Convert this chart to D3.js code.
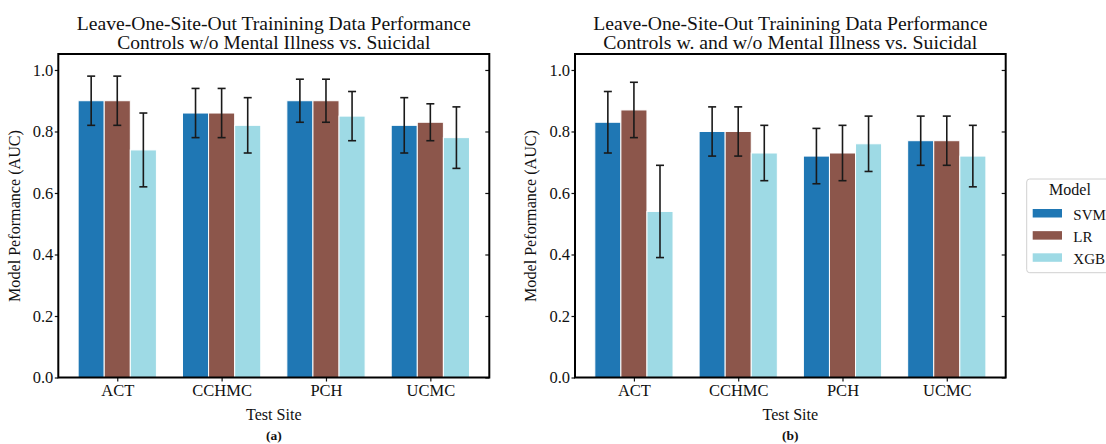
<!DOCTYPE html>
<html>
<head>
<meta charset="utf-8">
<script src="https://cdn.jsdelivr.net/npm/d3@7"></script>
<style>
  html, body { margin: 0; padding: 0; background: #fff; }
  svg { display: block; }
  text { font-family: "Liberation Serif", "DejaVu Serif", serif; fill: #111; }
</style>
</head>
<body>
<svg id="chart" width="1106" height="444"></svg>
<script>
// ---- data ----
const categories = ["ACT", "CCHMC", "PCH", "UCMC"];
const models = ["SVM", "LR", "XGB"];
const yTicks = [0.0, 0.2, 0.4, 0.6, 0.8, 1.0];

// Panel (a): Controls w/o Mental Illness vs. Suicidal
const aSVM = [0.90, 0.86, 0.90, 0.82];
const aSVMLo = [0.82, 0.78, 0.83, 0.73];
const aSVMHi = [0.98, 0.94, 0.97, 0.91];
const aLR = [0.90, 0.86, 0.90, 0.83];
const aLRLo = [0.82, 0.78, 0.83, 0.77];
const aLRHi = [0.98, 0.94, 0.97, 0.89];
const aXGB = [0.74, 0.82, 0.85, 0.78];
const aXGBLo = [0.62, 0.73, 0.77, 0.68];
const aXGBHi = [0.86, 0.91, 0.93, 0.88];

// Panel (b): Controls w. and w/o Mental Illness vs. Suicidal
const bSVM = [0.83, 0.80, 0.72, 0.77];
const bSVMLo = [0.73, 0.72, 0.63, 0.69];
const bSVMHi = [0.93, 0.88, 0.81, 0.85];
const bLR = [0.87, 0.80, 0.73, 0.77];
const bLRLo = [0.78, 0.72, 0.64, 0.69];
const bLRHi = [0.96, 0.88, 0.82, 0.85];
const bXGB = [0.54, 0.73, 0.76, 0.72];
const bXGBLo = [0.39, 0.64, 0.67, 0.62];
const bXGBHi = [0.69, 0.82, 0.85, 0.82];

const titleLine1 = "Leave-One-Site-Out Trainining Data Performance";
const titleA2 = "Controls w/o Mental Illness vs. Suicidal";
const titleB2 = "Controls w. and w/o Mental Illness vs. Suicidal";
const xLabel = "Test Site";
const yLabel = "Model Peformance (AUC)";
const legendTitle = "Model";

const colors = { SVM: "#1f77b4", LR: "#8c564b", XGB: "#9edae5" };

function buildRows(svm, svmLo, svmHi, lr, lrLo, lrHi, xgb, xgbLo, xgbHi) {
  const rows = [];
  categories.forEach((c, i) => {
    rows.push({ cat: c, ci: i, model: "SVM", mi: 0, v: svm[i], lo: svmLo[i], hi: svmHi[i] });
    rows.push({ cat: c, ci: i, model: "LR", mi: 1, v: lr[i], lo: lrLo[i], hi: lrHi[i] });
    rows.push({ cat: c, ci: i, model: "XGB", mi: 2, v: xgb[i], lo: xgbLo[i], hi: xgbHi[i] });
  });
  return rows;
}

const panels = [
  { left: 58.3, right: 489.3, t2: titleA2, t2len: 313, tag: "(a)",
    rows: buildRows(aSVM, aSVMLo, aSVMHi, aLR, aLRLo, aLRHi, aXGB, aXGBLo, aXGBHi) },
  { left: 575, right: 1005.7, t2: titleB2, t2len: 374, tag: "(b)",
    rows: buildRows(bSVM, bSVMLo, bSVMHi, bLR, bLRLo, bLRHi, bXGB, bXGBLo, bXGBHi) }
];

const plotTop = 54.6, plotBottom = 377.5;
const svg = d3.select("#chart");
const barW = 0.25;

const y = d3.scaleLinear().domain([0, 1.05]).range([plotBottom, plotTop]);

panels.forEach(p => {
  const x = d3.scaleLinear().domain([-0.565, 3.565]).range([p.left, p.right]);
  const g = svg.append("g");
  const cx = (p.left + p.right) / 2;

  // bars
  g.selectAll("rect.bar").data(p.rows).enter().append("rect")
    .attr("class", "bar")
    .attr("x", d => x(d.ci + (d.mi - 1) * barW - barW / 2))
    .attr("width", d => x(barW) - x(0))
    .attr("y", d => y(d.v))
    .attr("height", d => y(0) - y(d.v))
    .attr("fill", d => colors[d.model])
    .attr("stroke", "#fff")
    .attr("stroke-width", 1);

  // error bars
  const eb = g.selectAll("g.eb").data(p.rows).enter().append("g").attr("class", "eb");
  const ex = d => x(d.ci + (d.mi - 1) * barW);
  eb.append("line").attr("x1", ex).attr("x2", ex)
    .attr("y1", d => y(d.lo)).attr("y2", d => y(d.hi))
    .attr("stroke", "#1a1a1a").attr("stroke-width", 1.6);
  eb.append("line").attr("x1", d => ex(d) - 4).attr("x2", d => ex(d) + 4)
    .attr("y1", d => y(d.lo)).attr("y2", d => y(d.lo))
    .attr("stroke", "#1a1a1a").attr("stroke-width", 1.6);
  eb.append("line").attr("x1", d => ex(d) - 4).attr("x2", d => ex(d) + 4)
    .attr("y1", d => y(d.hi)).attr("y2", d => y(d.hi))
    .attr("stroke", "#1a1a1a").attr("stroke-width", 1.6);

  // axes
  const yAxis = d3.axisLeft(y).tickValues(yTicks).tickFormat(d3.format(".1f")).tickSize(3.5).tickPadding(1.5);
  const ga = g.append("g").attr("transform", `translate(${p.left},0)`).call(yAxis);
  ga.select(".domain").remove();
  ga.selectAll("text").style("font-size", "16.5px").style("font-family", "Liberation Serif").attr("fill", "#111");
  ga.selectAll("line").attr("stroke", "#111").attr("stroke-width", 1.2);

  const yAxisR = d3.axisRight(y).tickValues(yTicks).tickFormat("").tickSize(-4);
  const gr = g.append("g").attr("transform", `translate(${p.right},0)`).call(yAxisR);
  gr.select(".domain").remove();
  gr.selectAll("line").attr("stroke", "#111").attr("stroke-width", 1.2);

  const xAxis = d3.axisBottom(x).tickValues([0, 1, 2, 3]).tickFormat(i => categories[i]).tickSize(4).tickPadding(3);
  const gx = g.append("g").attr("transform", `translate(0,${plotBottom})`).call(xAxis);
  gx.select(".domain").remove();
  gx.selectAll("text").style("font-size", "16.5px").style("font-family", "Liberation Serif").attr("fill", "#111");
  gx.selectAll("line").attr("stroke", "#111").attr("stroke-width", 1.2);

  // frame
  g.append("rect").attr("x", p.left).attr("y", plotTop - 0.6).attr("width", p.right - p.left).attr("height", plotBottom - plotTop + 0.6)
    .attr("fill", "none").attr("stroke", "#000").attr("stroke-width", 2);

  // titles
  g.append("text").attr("x", cx).attr("y", 29.5).attr("text-anchor", "middle")
    .style("font-size", "18px").attr("textLength", 394).attr("lengthAdjust", "spacingAndGlyphs").text(titleLine1);
  g.append("text").attr("x", cx).attr("y", 48.5).attr("text-anchor", "middle")
    .style("font-size", "18px").attr("textLength", p.t2len).attr("lengthAdjust", "spacingAndGlyphs").text(p.t2);

  // axis labels
  g.append("text").attr("x", cx).attr("y", 420).attr("text-anchor", "middle")
    .style("font-size", "16.5px").attr("textLength", 55.7).attr("lengthAdjust", "spacingAndGlyphs").text(xLabel);
  g.append("text").attr("transform", `translate(${p.left - 38.8},216) rotate(-90)`).attr("text-anchor", "middle")
    .style("font-size", "16.5px").attr("textLength", 172).attr("lengthAdjust", "spacingAndGlyphs").text(yLabel);
  g.append("text").attr("x", cx).attr("y", 440).attr("text-anchor", "middle")
    .style("font-size", "13.5px").style("font-weight", "bold").text(p.tag);
});

// legend
const lg = svg.append("g");
lg.append("rect").attr("x", 1026.7).attr("y", 179).attr("width", 100).attr("height", 93.7)
  .attr("rx", 3).attr("fill", "#fff").attr("fill-opacity", 0.8).attr("stroke", "#d0d0d0").attr("stroke-width", 1);
lg.append("text").attr("x", 1070).attr("y", 195).attr("text-anchor", "middle").style("font-size", "16px").text(legendTitle);
const legY = d3.scalePoint().domain(models).range([209, 253.3]);
models.forEach(m => {
  lg.append("rect").attr("x", 1032.7).attr("y", legY(m)).attr("width", 29.3).attr("height", 8.5).attr("fill", colors[m]);
  lg.append("text").attr("x", 1073.3).attr("y", legY(m) + 10.5).style("font-size", "15px").text(m);
});
</script>
</body>
</html>
